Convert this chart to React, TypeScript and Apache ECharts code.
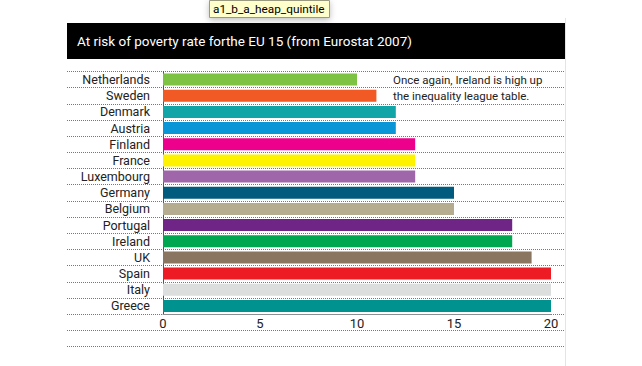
import React, { useEffect, useRef } from "react";
import * as echarts from "echarts";

const countries = ["Netherlands", "Sweden", "Denmark", "Austria", "Finland", "France", "Luxembourg", "Germany", "Belgium", "Portugal", "Ireland", "UK", "Spain", "Italy", "Greece"];
const rates = [10, 11, 12, 12, 13, 13, 13, 15, 15, 18, 18, 19, 20, 20, 20];
const barColors = ["#7dc242", "#f15a24", "#12a5a8", "#0a96d6", "#ec008c", "#fff200", "#a066aa", "#005b7f", "#b5ab8f", "#6e2585", "#00a650", "#8a7560", "#ed1c24", "#dcdddd", "#00928f"];
const xTicks = [0, 5, 10, 15, 20];
const titleText = "At risk of poverty rate forthe EU 15 (from Eurostat 2007)";
const noteLines = ["Once again, Ireland is high up", "the inequality league table."];
const tagText = "a1_b_a_heap_quintile";
// background rows for the dotted rules (15 data rows + 2 rows under the axis)
const ruleRows = [...countries, "", ""];

export default function App() {
  const ref = useRef<HTMLDivElement>(null);
  useEffect(() => {
    if (!ref.current) return;
    const chart = echarts.init(ref.current, null, { renderer: "svg" });
    const font = "Roboto, 'DejaVu Sans', sans-serif";
    chart.setOption({
      animation: false,
      backgroundColor: "#ffffff",
      textStyle: { fontFamily: font },
      grid: [
        { left: 67, right: 77, top: 71.5, bottom: 19.5, show: false },
        { left: 163, right: 91, top: 71.5, bottom: 52 },
      ],
      xAxis: [
        { gridIndex: 0, type: "value", show: false, min: 0, max: 1 },
        {
          gridIndex: 1,
          type: "value",
          min: 0,
          max: 20,
          interval: 5,
          axisLine: { show: true, lineStyle: { color: "#8a8f94", width: 1 } },
          axisTick: { show: false },
          splitLine: { show: false },
          axisLabel: {
            color: "#222",
            fontSize: 13,
            margin: 3,
            formatter: (v: number) => (xTicks.includes(v) ? String(v) : ""),
          },
        },
      ],
      yAxis: [
        {
          gridIndex: 0,
          type: "category",
          inverse: true,
          data: ruleRows,
          axisLine: { show: false },
          axisTick: { show: false, interval: 0 },
          axisLabel: { show: false, interval: 0 },
          splitLine: { show: true, interval: 0, lineStyle: { color: "#777", type: [1, 1], width: 1 } },
        },
        {
          gridIndex: 1,
          type: "category",
          inverse: true,
          data: countries,
          axisLine: { show: true, lineStyle: { color: "#555", width: 1 } },
          axisTick: { show: false },
          splitLine: { show: false },
          axisLabel: { color: "#222", fontSize: 12.5, margin: 13, interval: 0 },
        },
      ],
      series: [
        {
          type: "bar",
          xAxisIndex: 1,
          yAxisIndex: 1,
          data: rates.map((v, i) => ({ value: v, itemStyle: { color: barColors[i] } })),
          barWidth: 12,
          silent: true,
        },
      ],
      graphic: [
        { type: "line", shape: { x1: 565.5, y1: 18, x2: 565.5, y2: 366 }, style: { stroke: "#f3dde4", lineWidth: 1 } },
        { type: "rect", shape: { x: 67, y: 23, width: 498, height: 36 }, style: { fill: "#000" } },
        {
          type: "text",
          x: 77,
          y: 41,
          style: { text: titleText, fill: "#fff", fontSize: 13.5, fontFamily: font, verticalAlign: "middle" },
        },
        {
          type: "text",
          x: 393,
          y: 71.5,
          style: { text: noteLines.join("\n"), fill: "#222", fontSize: 11.5, lineHeight: 16.2, fontFamily: font, verticalAlign: "top" },
        },
        {
          type: "rect",
          shape: { x: 209.5, y: 0.5, width: 120, height: 17 },
          style: { fill: "#ffffcc", stroke: "#9a9a80", lineWidth: 1, shadowBlur: 6, shadowColor: "rgba(0,0,0,0.25)", shadowOffsetY: 2 },
        },
        {
          type: "text",
          x: 213,
          y: 9,
          style: { text: tagText, fill: "#000", fontSize: 11.8, fontFamily: font, verticalAlign: "middle" },
        },
      ],
    });
    return () => chart.dispose();
  }, []);
  return <div ref={ref} style={{ position: "fixed", left: 0, top: 0, width: 642, height: 366 }} />;
}
